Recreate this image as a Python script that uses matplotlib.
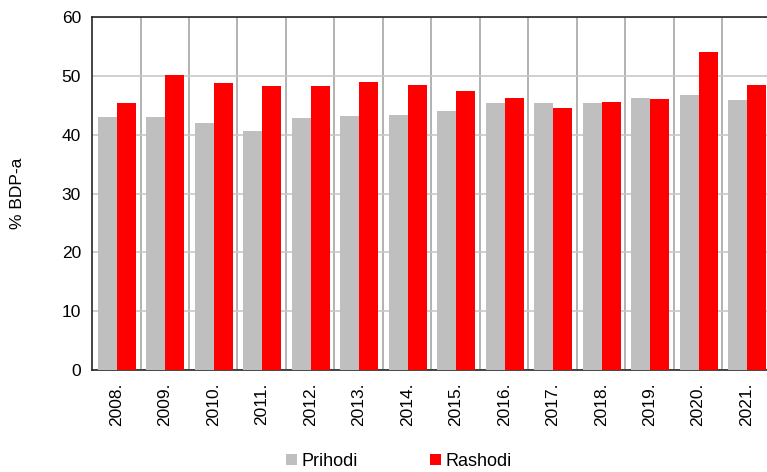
import matplotlib.pyplot as plt
import numpy as np

plt.rcParams['font.family'] = ['Liberation Sans', 'DejaVu Sans']

years = ['2008.', '2009.', '2010.', '2011.', '2012.', '2013.', '2014.',
         '2015.', '2016.', '2017.', '2018.', '2019.', '2020.', '2021.']
prihodi = [43.0, 43.0, 42.0, 40.6, 42.8, 43.2, 43.4,
           44.0, 45.3, 45.3, 45.3, 46.3, 46.7, 45.9]
rashodi = [45.3, 50.1, 48.7, 48.2, 48.2, 48.9, 48.5,
           47.5, 46.3, 44.5, 45.5, 46.0, 54.0, 48.5]

fig = plt.figure(figsize=(7.67, 4.72), dpi=100)
ax = fig.add_axes([0.12, 0.216, 0.885, 0.748])

x = np.arange(len(years))
w = 0.39
ax.bar(x - w / 2 + 0.01, prihodi, w, color='#BFBFBF', label='Prihodi', zorder=3)
ax.bar(x + w / 2 + 0.01, rashodi, w, color='#FF0000', label='Rashodi', zorder=3)

ax.set_xlim(-0.5, len(years) - 0.5)
ax.set_ylim(0, 60)
ax.set_yticks(range(0, 61, 10))
ax.set_xticks(x)
ax.set_xticklabels(years, rotation=90, fontsize=12.5)
ax.tick_params(axis='y', labelsize=12.5, length=0, pad=8)
ax.tick_params(axis='x', length=0, pad=9)
ax.set_ylabel('% BDP-a', fontsize=12.5, labelpad=26)

# gridlines: horizontal at ticks, vertical between categories
ax.grid(axis='y', color='#C8C8C8', linewidth=1.2, zorder=0)
for b in np.arange(0.5, len(years) - 0.5, 1):
    ax.axvline(b, color='#A6A6A6', linewidth=1.2, zorder=0)

for s in ['left', 'top', 'bottom']:
    ax.spines[s].set_color('#262626')
    ax.spines[s].set_linewidth(1.2)
ax.spines['right'].set_visible(False)

fig.legend(loc='center', bbox_to_anchor=(0.52, 0.022), ncol=2, frameon=False,
           fontsize=13, handlelength=0.6, handleheight=0.6, handletextpad=0.25,
           columnspacing=4.0)

fig.savefig('out.png', dpi=100)
